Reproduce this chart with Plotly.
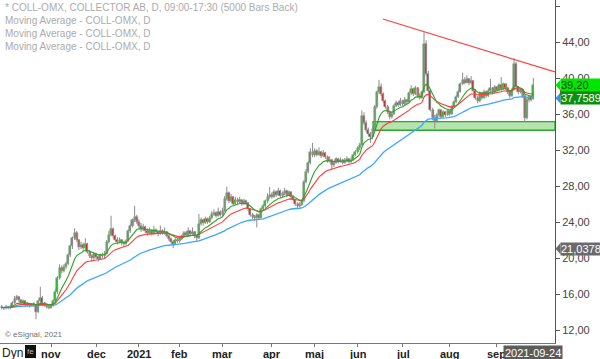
import pandas as pd
import plotly.graph_objects as go

# ---------------- data ----------------
holidays = ["2020-12-24", "2020-12-25", "2020-12-31", "2021-01-01", "2021-01-06",
            "2021-04-02", "2021-04-05", "2021-05-13", "2021-06-25"]

open_ = [
    14.6, 14.5, 14.4, 14.6, 14.4, 14.6, 15.0, 15.4, 15.7, 15.3,
    15.0, 15.2, 14.8, 14.9, 14.7, 14.8, 14.8, 14.0, 15.2, 15.6,
    15.0, 14.8, 14.6, 14.5, 14.7, 15.2, 16.2, 17.8, 18.9, 18.6,
    19.0, 19.3, 20.3, 21.3, 22.2, 22.8, 22.0, 21.2, 21.5, 21.1,
    21.6, 20.7, 20.2, 20.0, 20.4, 20.1, 19.9, 20.3, 20.2, 20.5,
    21.8, 22.6, 23.2, 22.4, 22.0, 21.8, 22.0, 21.7, 21.6, 21.9,
    23.0, 23.6, 24.2, 24.6, 24.0, 23.6, 23.2, 23.5, 23.0, 22.8,
    23.0, 22.7, 23.1, 22.9, 22.7, 23.0, 22.8, 22.9, 22.5, 22.1,
    21.8, 21.6, 22.0, 21.9, 22.1, 22.4, 22.8, 22.6, 23.0, 22.7,
    22.9, 22.4, 22.2, 23.8, 24.2, 23.9, 24.3, 24.0, 24.4, 24.9,
    25.0, 24.7, 25.1, 24.8, 25.2, 26.6, 27.2, 26.3, 26.8, 26.0,
    26.5, 26.2, 26.4, 26.0, 26.3, 26.1, 25.4, 24.8, 24.6, 24.4,
    24.8, 24.5, 25.4, 25.8, 26.3, 26.8, 27.0, 26.8, 27.3, 27.0,
    27.4, 26.9, 27.2, 27.5, 27.0, 27.3, 26.8, 26.5, 26.0, 25.8,
    25.9, 26.3, 28.5, 29.6, 30.6, 31.8, 31.4, 31.9, 31.5, 31.8,
    31.3, 31.7, 31.2, 30.8, 30.9, 30.3, 30.6, 31.0, 30.7, 30.9,
    30.6, 30.8, 31.0, 30.7, 30.9, 31.4, 31.8, 32.2, 32.6, 35.8,
    35.0, 34.2, 33.8, 33.4, 34.3, 36.8, 38.4, 39.0, 38.2, 37.4,
    36.8, 36.2, 35.7, 36.0, 36.9, 37.2, 37.0, 37.5, 37.1, 37.6,
    37.3, 38.3, 38.8, 38.2, 38.9, 38.0, 37.8, 38.4, 43.8, 40.5,
    38.6, 36.5, 35.6, 35.2, 35.9, 36.4, 35.7, 36.2, 35.9, 36.3,
    36.0, 36.8, 37.3, 37.9, 38.5, 39.3, 39.8, 39.5, 39.9, 39.4,
    39.7, 38.6, 37.8, 37.4, 38.3, 37.8, 38.5, 38.0, 38.6, 38.9,
    38.4, 39.0, 38.7, 39.2, 38.8, 39.3, 38.9, 38.4, 38.0, 38.7,
    41.6, 39.0, 38.4, 38.7, 38.0, 35.6, 37.6, 37.9, 37.7,
]

high = [
    14.8, 14.6, 14.8, 14.7, 14.8, 15.2, 15.8, 15.9, 15.8, 15.4,
    15.4, 15.3, 15.1, 15.0, 15.0, 15.1, 14.9, 15.3, 16.8, 15.8,
    15.1, 14.9, 14.8, 14.9, 15.4, 16.6, 18.0, 19.3, 19.2, 19.3,
    19.6, 20.5, 21.5, 22.4, 23.3, 23.0, 22.1, 21.8, 21.7, 22.2,
    21.7, 20.9, 20.4, 20.7, 20.6, 20.3, 20.5, 20.6, 20.8, 22.0,
    23.0, 24.7, 23.4, 22.6, 22.3, 22.3, 22.1, 21.9, 22.1, 23.2,
    23.8, 24.4, 25.8, 24.8, 24.3, 23.9, 23.8, 23.6, 23.3, 23.4,
    23.2, 23.6, 23.3, 23.0, 23.6, 23.2, 23.4, 23.0, 22.7, 22.3,
    22.0, 22.2, 22.2, 22.3, 22.6, 23.0, 23.0, 23.4, 23.1, 23.4,
    23.0, 22.6, 24.9, 24.5, 24.4, 24.6, 24.5, 24.7, 25.2, 25.4,
    25.2, 25.6, 25.3, 25.6, 26.9, 27.9, 27.4, 27.1, 26.9, 26.8,
    26.7, 26.8, 26.5, 26.6, 26.5, 26.2, 25.5, 25.0, 24.8, 25.0,
    24.9, 25.6, 26.0, 26.5, 27.2, 27.9, 27.3, 27.6, 27.5, 27.8,
    27.6, 27.4, 27.8, 27.6, 27.5, 27.4, 27.0, 26.6, 26.2, 26.2,
    26.5, 28.7, 29.9, 30.8, 32.2, 32.8, 32.2, 32.1, 32.3, 31.9,
    32.0, 31.8, 31.4, 31.3, 31.0, 30.8, 31.2, 31.1, 31.2, 31.0,
    31.1, 31.3, 31.1, 31.2, 31.6, 32.0, 32.4, 32.8, 36.4, 36.2,
    35.3, 34.5, 34.0, 34.6, 37.0, 38.6, 39.8, 39.4, 38.4, 37.6,
    37.0, 36.4, 36.3, 37.1, 37.5, 37.4, 37.8, 37.6, 37.9, 37.7,
    38.5, 39.2, 38.9, 39.1, 39.0, 38.3, 38.6, 45.1, 44.2, 40.8,
    38.8, 36.7, 35.9, 36.1, 36.6, 36.5, 36.4, 36.3, 36.5, 36.4,
    37.0, 37.5, 38.1, 38.7, 39.5, 40.6, 40.1, 40.3, 40.0, 40.2,
    39.8, 38.8, 38.0, 38.5, 38.4, 38.7, 38.6, 38.8, 39.9, 39.0,
    39.2, 39.1, 39.4, 40.1, 39.5, 39.4, 39.0, 38.6, 38.9, 42.2,
    41.8, 39.1, 38.9, 38.8, 38.1, 37.8, 38.1, 38.0, 40.0,
]

low = [
    14.3, 14.2, 14.3, 14.3, 14.3, 14.5, 14.9, 15.3, 15.1, 14.8,
    14.9, 14.6, 14.6, 14.5, 14.6, 14.6, 13.2, 13.9, 15.0, 14.9,
    14.6, 14.4, 14.3, 14.4, 14.6, 15.1, 16.0, 17.6, 18.3, 18.4,
    18.8, 19.2, 20.1, 21.0, 22.0, 21.8, 20.9, 21.0, 20.8, 21.0,
    20.5, 20.0, 19.6, 19.8, 19.9, 19.6, 19.8, 20.0, 20.0, 20.4,
    21.6, 22.4, 22.2, 21.8, 21.5, 21.6, 21.4, 21.3, 21.5, 21.8,
    22.8, 23.4, 24.0, 23.8, 23.3, 22.9, 23.0, 22.8, 22.5, 22.6,
    22.5, 22.6, 22.7, 22.4, 22.6, 22.6, 22.6, 22.3, 21.9, 21.6,
    21.1, 21.5, 21.7, 21.7, 22.0, 22.3, 22.4, 22.5, 22.5, 22.6,
    22.2, 21.9, 22.1, 23.6, 23.6, 23.8, 23.8, 23.9, 24.3, 24.7,
    24.5, 24.6, 24.6, 24.7, 25.1, 26.4, 26.1, 26.2, 25.8, 25.9,
    26.0, 26.1, 25.8, 25.9, 25.9, 25.2, 24.6, 24.3, 24.1, 23.4,
    24.2, 24.4, 25.2, 25.6, 26.1, 26.6, 26.6, 26.7, 26.8, 26.9,
    26.7, 26.8, 27.0, 26.8, 26.9, 26.6, 26.3, 25.8, 25.5, 25.6,
    25.8, 26.2, 28.3, 29.4, 30.4, 31.2, 31.2, 31.3, 31.4, 31.1,
    31.2, 31.0, 30.6, 30.6, 29.9, 30.1, 30.5, 30.5, 30.6, 30.4,
    30.5, 30.7, 30.5, 30.6, 30.8, 31.3, 31.6, 32.0, 32.5, 34.8,
    34.0, 33.5, 32.8, 33.2, 34.2, 36.6, 38.2, 38.0, 37.2, 36.6,
    36.0, 35.4, 35.5, 35.9, 36.8, 36.8, 36.9, 36.9, 37.0, 37.1,
    37.2, 38.1, 38.0, 38.1, 37.8, 37.6, 37.7, 38.3, 40.2, 38.4,
    36.3, 35.3, 34.4, 35.0, 35.7, 35.5, 35.6, 35.7, 35.8, 35.8,
    35.9, 36.7, 37.2, 37.8, 38.4, 39.2, 39.3, 39.4, 39.2, 39.3,
    38.4, 37.6, 37.2, 37.3, 37.6, 37.7, 37.8, 37.9, 38.5, 38.2,
    38.3, 38.5, 38.6, 38.6, 38.7, 38.7, 38.2, 37.8, 37.9, 38.6,
    38.8, 38.2, 38.3, 37.8, 35.1, 35.4, 37.3, 37.4, 37.6,
]

close = [
    14.5, 14.4, 14.6, 14.5, 14.6, 15.0, 15.5, 15.7, 15.3, 15.0,
    15.2, 14.8, 14.9, 14.7, 14.8, 14.9, 14.0, 15.2, 15.6, 15.0,
    14.8, 14.6, 14.5, 14.7, 15.2, 16.2, 17.8, 18.9, 18.6, 19.0,
    19.3, 20.3, 21.3, 22.2, 22.8, 22.0, 21.2, 21.5, 21.1, 21.6,
    20.7, 20.2, 20.0, 20.4, 20.1, 19.9, 20.3, 20.2, 20.5, 21.8,
    22.6, 23.2, 22.4, 22.0, 21.8, 22.0, 21.7, 21.6, 21.9, 23.0,
    23.6, 24.2, 24.6, 24.0, 23.6, 23.2, 23.5, 23.0, 22.8, 23.0,
    22.7, 23.1, 22.9, 22.7, 23.0, 22.8, 22.9, 22.5, 22.1, 21.8,
    21.6, 22.0, 21.9, 22.1, 22.4, 22.8, 22.6, 23.0, 22.7, 22.9,
    22.4, 22.2, 23.8, 24.2, 23.9, 24.3, 24.0, 24.4, 24.9, 25.0,
    24.7, 25.1, 24.8, 25.2, 26.6, 27.2, 26.3, 26.8, 26.0, 26.5,
    26.2, 26.4, 26.0, 26.3, 26.1, 25.4, 24.8, 24.6, 24.4, 24.8,
    24.5, 25.4, 25.8, 26.3, 26.8, 27.0, 26.8, 27.3, 27.0, 27.4,
    26.9, 27.2, 27.5, 27.0, 27.3, 26.8, 26.5, 26.0, 25.8, 25.9,
    26.3, 28.5, 29.6, 30.6, 31.8, 31.4, 31.9, 31.5, 31.8, 31.3,
    31.7, 31.2, 30.8, 30.9, 30.3, 30.6, 31.0, 30.7, 30.9, 30.6,
    30.8, 31.0, 30.7, 30.9, 31.4, 31.8, 32.2, 32.6, 35.8, 35.0,
    34.2, 33.8, 33.4, 34.3, 36.8, 38.4, 39.0, 38.2, 37.4, 36.8,
    36.2, 35.7, 36.0, 36.9, 37.2, 37.0, 37.5, 37.1, 37.6, 37.3,
    38.3, 38.8, 38.2, 38.9, 38.0, 37.8, 38.4, 43.8, 40.5, 38.6,
    36.5, 35.6, 35.2, 35.9, 36.4, 35.7, 36.2, 35.9, 36.3, 36.0,
    36.8, 37.3, 37.9, 38.5, 39.3, 39.8, 39.5, 39.9, 39.4, 39.7,
    38.6, 37.8, 37.4, 38.3, 37.8, 38.5, 38.0, 38.6, 38.9, 38.4,
    39.0, 38.7, 39.2, 38.8, 39.3, 38.9, 38.4, 38.0, 38.7, 41.6,
    39.0, 38.4, 38.7, 38.0, 35.6, 37.6, 37.9, 37.6, 39.2,
]

month_labels = ["nov", "dec", "2021", "feb", "mar", "apr", "maj", "jun", "jul", "aug", "sep"]
first_label_month = "2020-11-01"
y_ticks = [12, 16, 20, 24, 28, 32, 36, 40, 44, 48]

last_close_label = 39.20
ma_label = 37.75896
grey_label = 21.03780
last_date_label = "2021-09-24"

trend_start = (177.8, 46.56)   # drawn resistance line (bar index, price)
trend_end = (258.1, 40.67)
band_left = 173.2              # support zone (bar index)
band_low, band_high = 34.2, 35.15

# ---------------- derived ----------------
n = len(close)
dates = pd.bdate_range("2020-09-30", "2021-09-24")
dates = dates[~dates.isin(pd.to_datetime(holidays))][:n]
idx = list(range(n))

tickvals = []
seen = set()
start_m = pd.Timestamp(first_label_month)
for i, d in enumerate(dates):
    key = (d.year, d.month)
    if key not in seen and d >= start_m:
        seen.add(key)
        tickvals.append(i)
tickvals = tickvals[:len(month_labels)]

cs = pd.Series(close)
ma_g = cs.ewm(span=10, adjust=False).mean()
ma_r = cs.ewm(span=20, adjust=False).mean()
ma_b = cs.ewm(span=50, adjust=False).mean()

# candle geometry from OHLC
body_base = [min(o, c) for o, c in zip(open_, close)]
body_h = [max(abs(c - o), 0.06) for o, c in zip(open_, close)]
body_col = ["#22c622" if c >= o else "#c42424" for o, c in zip(open_, close)]
wick_x, wick_y = [], []
for i in idx:
    wick_x += [i, i, None]
    wick_y += [low[i], high[i], None]

XMIN, XMAX = -0.8, 258.1
YMIN, YMAX = 10.56, 48.67
PW, PH = 555.0, 343.0

FONT = "Arial, Liberation Sans, sans-serif"

fig = go.Figure()
fig.add_trace(go.Scatter(x=wick_x, y=wick_y, mode="lines", line=dict(color="#8c8c8c", width=1),
                         showlegend=False, hoverinfo="skip"))
fig.add_trace(go.Bar(x=idx, y=body_h, base=body_base, width=0.95,
                     marker=dict(color=body_col, line=dict(color="#8c8c8c", width=0.5)),
                     showlegend=False, hoverinfo="skip"))
fig.add_trace(go.Scatter(x=idx, y=ma_b, mode="lines",
                         line=dict(color="#3aa6ff", width=1.3), showlegend=False, hoverinfo="skip"))
fig.add_trace(go.Scatter(x=idx, y=ma_r, mode="lines",
                         line=dict(color="#ff3b3b", width=1.1), showlegend=False, hoverinfo="skip"))
fig.add_trace(go.Scatter(x=idx, y=ma_g, mode="lines",
                         line=dict(color="#2aa52a", width=1.1), showlegend=False, hoverinfo="skip"))


def px(v):
    return v / PW


shapes = []
shapes.append(dict(type="rect", xref="x", yref="y", x0=band_left, x1=XMAX, y0=band_low, y1=band_high,
                   fillcolor="rgba(120,205,110,0.55)", line=dict(color="#2fa52f", width=1.3), layer="below"))
shapes.append(dict(type="line", xref="x", yref="y", x0=trend_start[0], y0=trend_start[1],
                   x1=trend_end[0], y1=trend_end[1], line=dict(color="#ff4040", width=1.2)))


def arrow(yv, color):
    h = 0.62
    return dict(type="path", xref="paper", yref="y",
                path=f"M {px(555.5)},{yv} L {px(560.5)},{yv + h} L {px(560.5)},{yv - h} Z",
                fillcolor=color, line=dict(width=0))


shapes.append(dict(type="rect", xref="paper", yref="y", x0=px(560), x1=px(600), y0=ma_label + 0.3,
                   y1=ma_label + 1.0, fillcolor="#e02424", line=dict(width=0)))
shapes.append(arrow(last_close_label, "#00e600"))
shapes.append(arrow(ma_label, "#3a8cff"))
shapes.append(arrow(grey_label, "#6a6a6a"))
shapes.append(dict(type="rect", xref="paper", yref="paper", x0=px(25), x1=px(36),
                   y0=-15 / PH, y1=-2 / PH, fillcolor="#111111", line=dict(width=0)))

ann = []
legend_lines = ["* COLL-OMX, COLLECTOR AB, D, 09:00-17:30 (5000 Bars Back)",
                "Moving Average - COLL-OMX, D",
                "Moving Average - COLL-OMX, D",
                "Moving Average - COLL-OMX, D"]
for k, t in enumerate(legend_lines):
    ann.append(dict(text=t, xref="paper", yref="paper", x=px(3), y=1 - (7 + 13.3 * k) / PH,
                    xanchor="left", yanchor="middle", showarrow=False,
                    font=dict(family=FONT, size=10, color="#ababab")))
ann.append(dict(text="© eSignal, 2021", xref="paper", yref="paper", x=px(3), y=(PH - 334) / PH,
                xanchor="left", yanchor="middle", showarrow=False,
                font=dict(family=FONT, size=8, color="#707070")))
for tv, lab in zip(tickvals, month_labels):
    ann.append(dict(text=f"<b>{lab}</b>", xref="x", yref="paper", x=tv, y=-10.5 / PH,
                    xanchor="center", yanchor="middle", showarrow=False,
                    font=dict(family=FONT, size=11, color="#222222")))
ann.append(dict(text="Dyn", xref="paper", yref="paper", x=0, y=-9.5 / PH, xanchor="left", yanchor="middle",
                showarrow=False, font=dict(family=FONT, size=12, color="#222222")))
ann.append(dict(text="fe", xref="paper", yref="paper", x=px(30.5), y=-8.5 / PH, xanchor="center",
                yanchor="middle", showarrow=False, font=dict(family=FONT, size=8, color="#bbbbbb")))
ann.append(dict(text=last_date_label, xref="paper", yref="paper", x=px(503), y=-9.5 / PH,
                xanchor="left", yanchor="middle", showarrow=False, bgcolor="#5c5c5c", borderpad=1,
                font=dict(family=FONT, size=11, color="#ffffff")))


def side_label(val, text, bg, fg):
    return dict(text=text, xref="paper", yref="y", x=px(560), y=val, xanchor="left", yanchor="middle",
                showarrow=False, bgcolor=bg, borderpad=0, align="left", width=44,
                font=dict(family=FONT, size=11, color=fg))


ann.append(side_label(last_close_label, "39,20", "#00e600", "#004400"))
ann.append(side_label(ma_label, "37,75896", "#0b8f0b", "#ffffff"))
ann.append(side_label(grey_label, "21,03780", "#6a6a6a", "#ffffff"))

fig.update_layout(
    width=600, height=359,
    margin=dict(l=0, r=45, t=0, b=16),
    paper_bgcolor="white", plot_bgcolor="white",
    showlegend=False, barmode="overlay", bargap=0,
    shapes=shapes, annotations=ann,
    font=dict(family=FONT),
    xaxis=dict(range=[XMIN, XMAX], showgrid=False, zeroline=False, automargin=False,
               tickmode="array", tickvals=tickvals, showticklabels=False,
               ticks="outside", ticklen=3, tickcolor="#777777",
               showline=True, linecolor="#777777", linewidth=1),
    yaxis=dict(range=[YMIN, YMAX], side="right", showgrid=False, zeroline=False, automargin=False,
               tickmode="array", tickvals=y_ticks,
               ticktext=[f"{v:.2f}".replace(".", ",") for v in y_ticks],
               ticks="outside", ticklen=4, tickcolor="#555555",
               showline=True, linecolor="#555555", linewidth=1,
               tickfont=dict(family=FONT, size=11, color="#444444")),
)

fig.write_html("out.html", config={"displayModeBar": False},
               post_script="document.body.style.margin='0px';document.body.style.overflow='hidden';")
